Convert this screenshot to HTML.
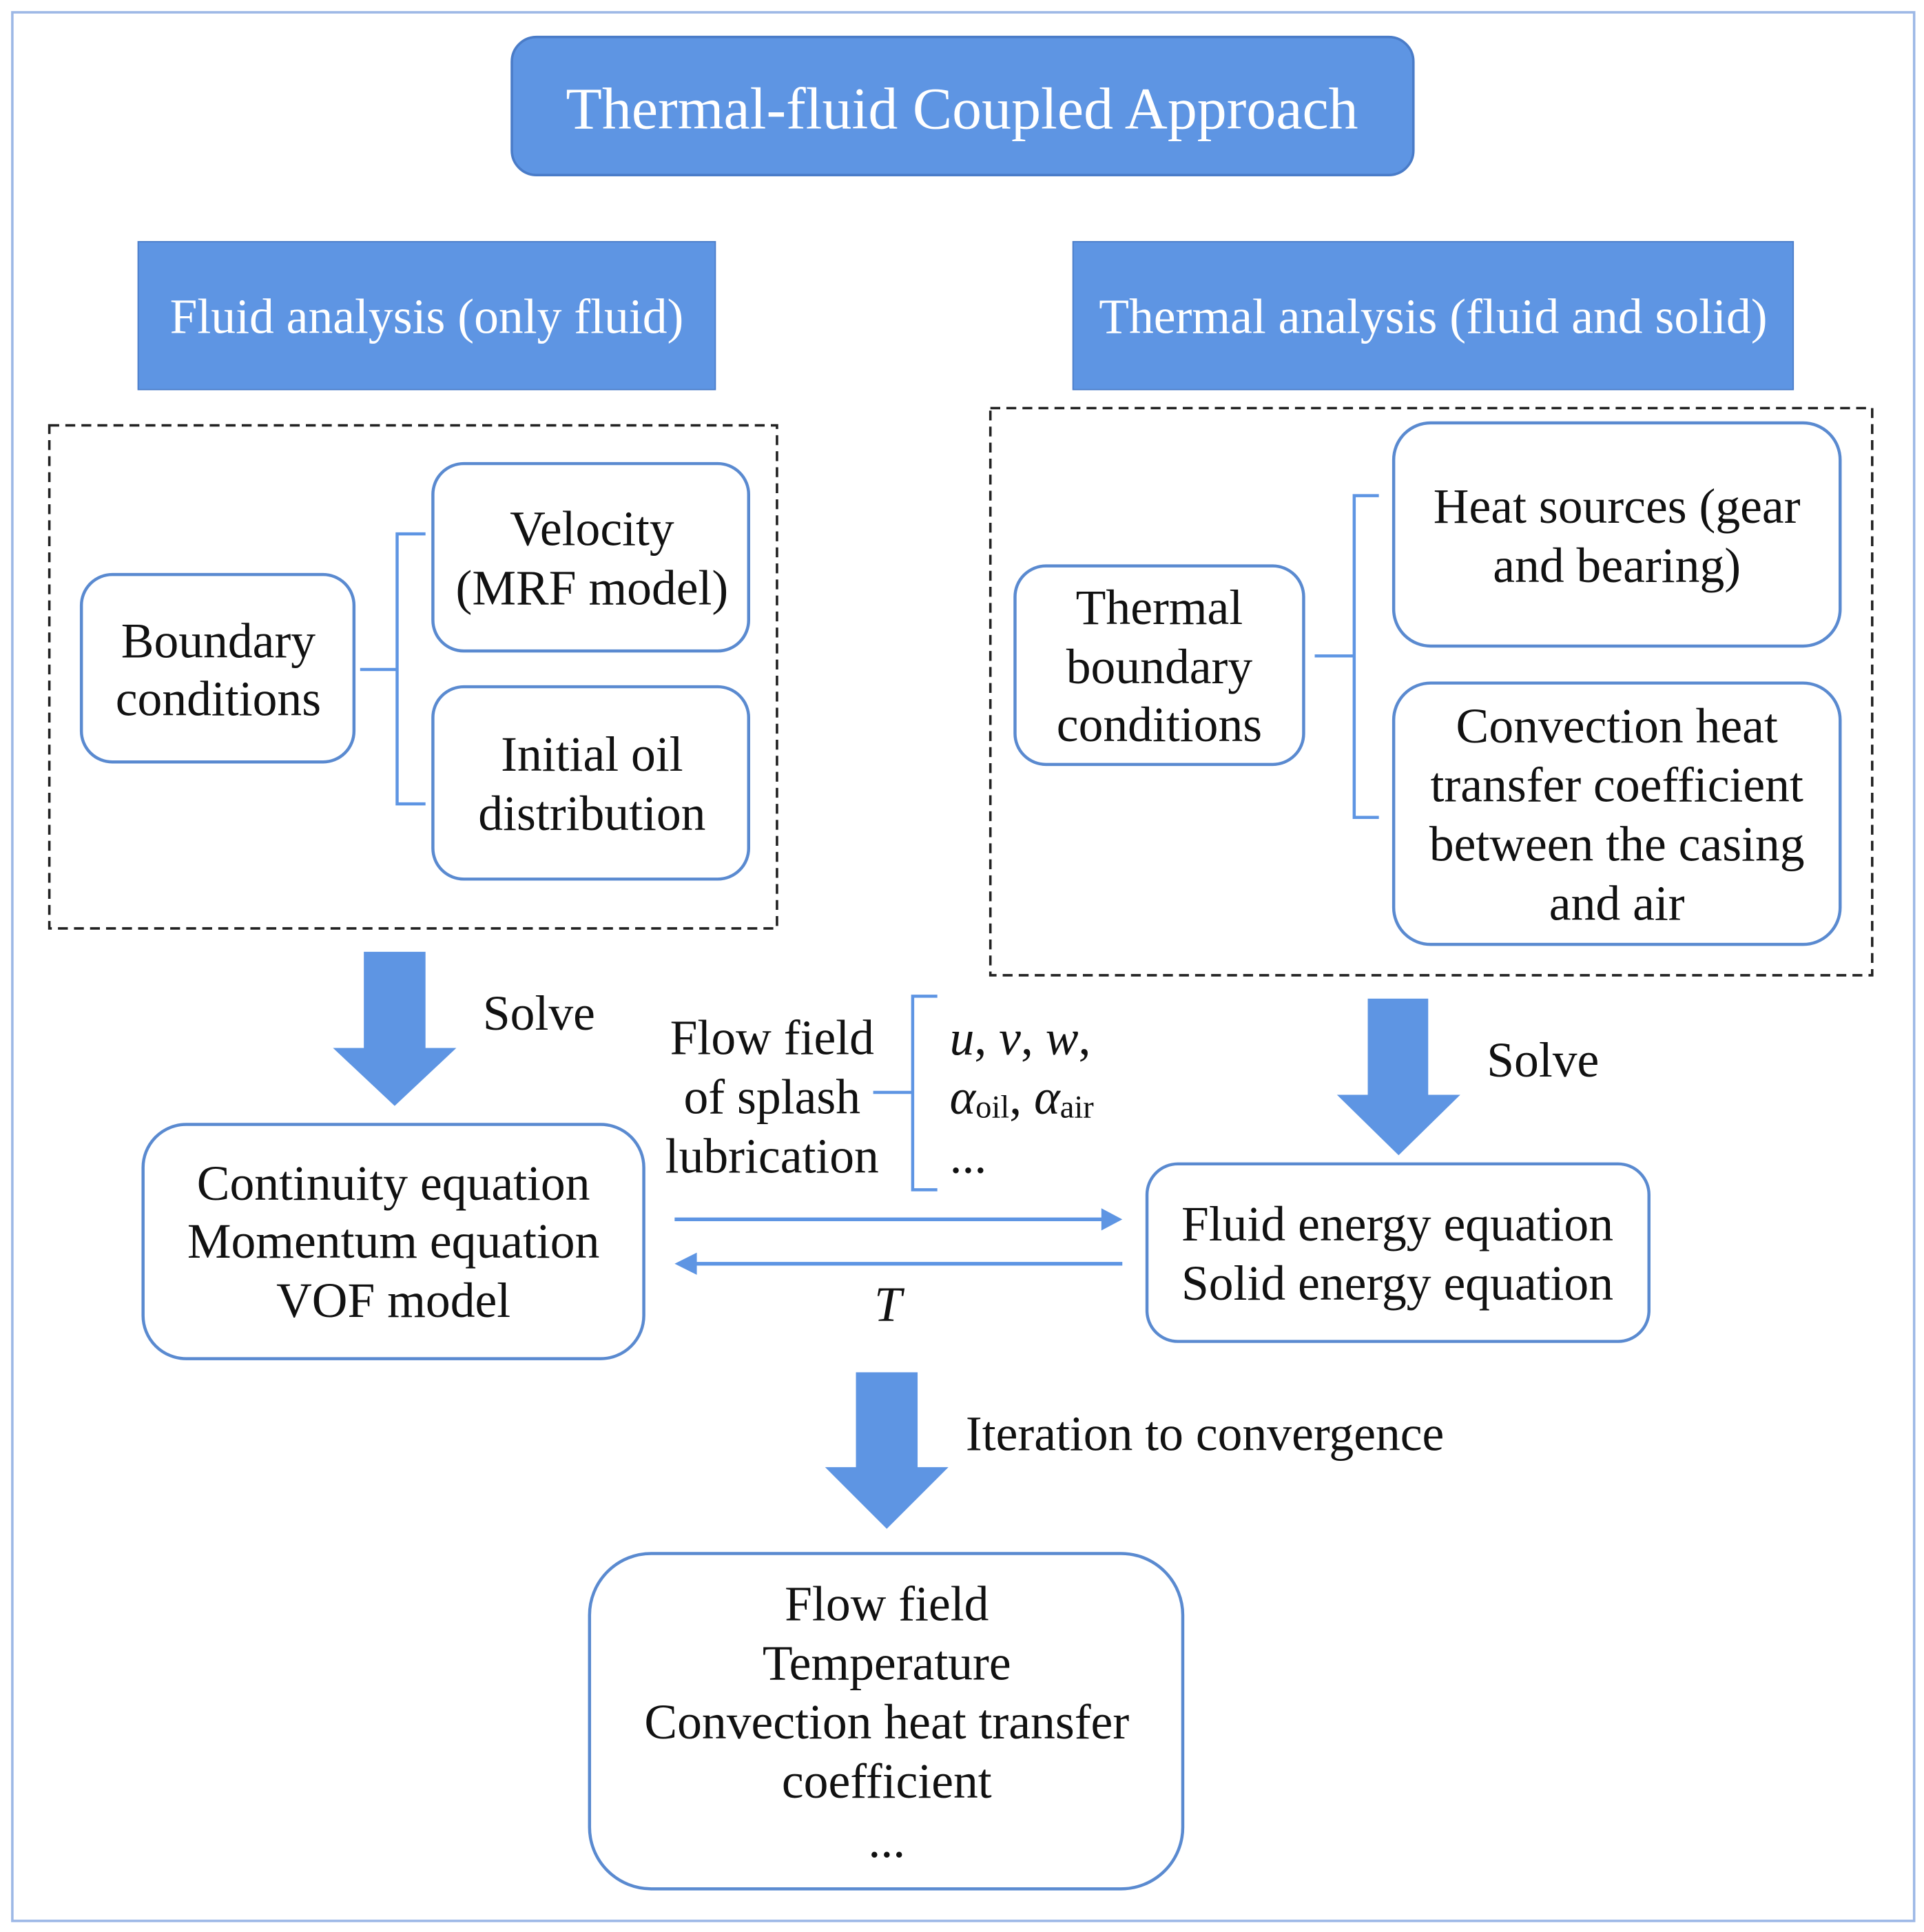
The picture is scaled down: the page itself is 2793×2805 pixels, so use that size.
<!DOCTYPE html>
<html><head><meta charset="utf-8"><style>
html,body{margin:0;padding:0;background:#fff;}
svg{display:block;}
text{font-family:"Liberation Serif",serif;fill:#111;dominant-baseline:central;text-anchor:middle;}
</style></head><body>
<svg width="2793" height="2805" viewBox="0 0 1560 1567" preserveAspectRatio="none" xmlns="http://www.w3.org/2000/svg">
<rect x="0" y="0" width="1560" height="1567" fill="#fff"/>
<rect x="10" y="10" width="1542" height="1548" fill="none" stroke="#9db8e6" stroke-width="2"/>
<rect x="415" y="30" width="731" height="112" rx="20" fill="#5E95E3" stroke="#4a7cc8" stroke-width="2"/>
<text x="780" y="88" font-size="48" style="fill:#fff">Thermal-fluid Coupled Approach</text>
<rect x="112" y="196" width="468" height="120" fill="#5E95E3" stroke="#4a7cc8" stroke-width="1"/>
<text x="346" y="257" font-size="40" style="fill:#fff">Fluid analysis (only fluid)</text>
<rect x="870" y="196" width="584" height="120" fill="#5E95E3" stroke="#4a7cc8" stroke-width="1"/>
<text x="1162" y="257" font-size="40" style="fill:#fff">Thermal analysis (fluid and solid)</text>
<rect x="40" y="345" width="590" height="408" fill="none" stroke="#222" stroke-width="2" stroke-dasharray="8,5"/>
<rect x="803" y="331" width="715" height="460" fill="none" stroke="#222" stroke-width="2" stroke-dasharray="8,5"/>
<g fill="#fff" stroke="#5a8ad0" stroke-width="2.5">
<rect x="66" y="466" width="221" height="152" rx="25"/>
<rect x="351" y="376" width="256" height="152" rx="25"/>
<rect x="351" y="557" width="256" height="156" rx="25"/>
<rect x="823" y="459" width="234" height="161" rx="25"/>
<rect x="1130" y="343" width="362" height="181" rx="30"/>
<rect x="1130" y="554" width="362" height="212" rx="30"/>
<rect x="116" y="912" width="406" height="190" rx="35"/>
<rect x="930" y="944" width="407" height="144" rx="25"/>
<rect x="478" y="1260" width="481" height="272" rx="50"/>
</g>
<g fill="none" stroke="#5E95E3" stroke-width="2.5">
<path d="M345 433 H322 V652 H345 M292 543 H322"/>
<path d="M1118 402 H1098 V663 H1118 M1066 532 H1098"/>
<path d="M760 808 H740 V965 H760 M708 886 H740"/>
</g>
<g fill="#5E95E3">
<path d="M295 772 H345 V850 H370 L320 897 L270 850 H295 Z"/>
<path d="M1109 810 H1158 V888 H1184 L1134 937 L1084 888 H1109 Z"/>
<path d="M694 1113 H744 V1190 H769 L719 1240 L669 1190 H694 Z"/>
</g>
<g stroke="#5E95E3" stroke-width="3" fill="#5E95E3">
<line x1="547" y1="989" x2="897" y2="989"/>
<path d="M910 989 L893 980 L893 998 Z" stroke="none"/>
<line x1="910" y1="1025" x2="562" y2="1025"/>
<path d="M547 1025 L565 1016 L565 1034 Z" stroke="none"/>
</g>
<g font-size="40">
<text x="177" y="520">Boundary</text>
<text x="177" y="567">conditions</text>
<text x="480" y="429">Velocity</text>
<text x="480" y="477">(MRF model)</text>
<text x="480" y="612">Initial oil</text>
<text x="480" y="660">distribution</text>
<text x="940" y="493">Thermal</text>
<text x="940" y="541">boundary</text>
<text x="940" y="588">conditions</text>
<text x="1311" y="411">Heat sources (gear</text>
<text x="1311" y="459">and bearing)</text>
<text x="1311" y="589">Convection heat</text>
<text x="1311" y="637">transfer coefficient</text>
<text x="1311" y="685">between the casing</text>
<text x="1311" y="733">and air</text>
<text x="437" y="822">Solve</text>
<text x="1251" y="860">Solve</text>
<text x="626" y="842">Flow field</text>
<text x="626" y="890">of splash</text>
<text x="626" y="938">lubrication</text>
<text x="770" y="842" style="text-anchor:start"><tspan font-style="italic">u</tspan>, <tspan font-style="italic">v</tspan>, <tspan font-style="italic">w</tspan>,</text>
<text x="770" y="890" style="text-anchor:start"><tspan font-style="italic">α</tspan><tspan font-size="26" dy="8">oil</tspan><tspan dy="-8">, </tspan><tspan font-style="italic">α</tspan><tspan font-size="26" dy="8">air</tspan></text>
<text x="770" y="938" style="text-anchor:start">...</text>
<text x="319" y="960">Continuity equation</text>
<text x="319" y="1007">Momentum equation</text>
<text x="319" y="1055">VOF model</text>
<text x="720" y="1058" font-style="italic">T</text>
<text x="1133" y="993">Fluid energy equation</text>
<text x="1133" y="1041">Solid energy equation</text>
<text x="783" y="1163" style="text-anchor:start">Iteration to convergence</text>
<text x="719" y="1301">Flow field</text>
<text x="719" y="1349">Temperature</text>
<text x="719" y="1397">Convection heat transfer</text>
<text x="719" y="1445">coefficient</text>
<text x="719" y="1493">...</text>
</g>
</svg>
</body></html>
